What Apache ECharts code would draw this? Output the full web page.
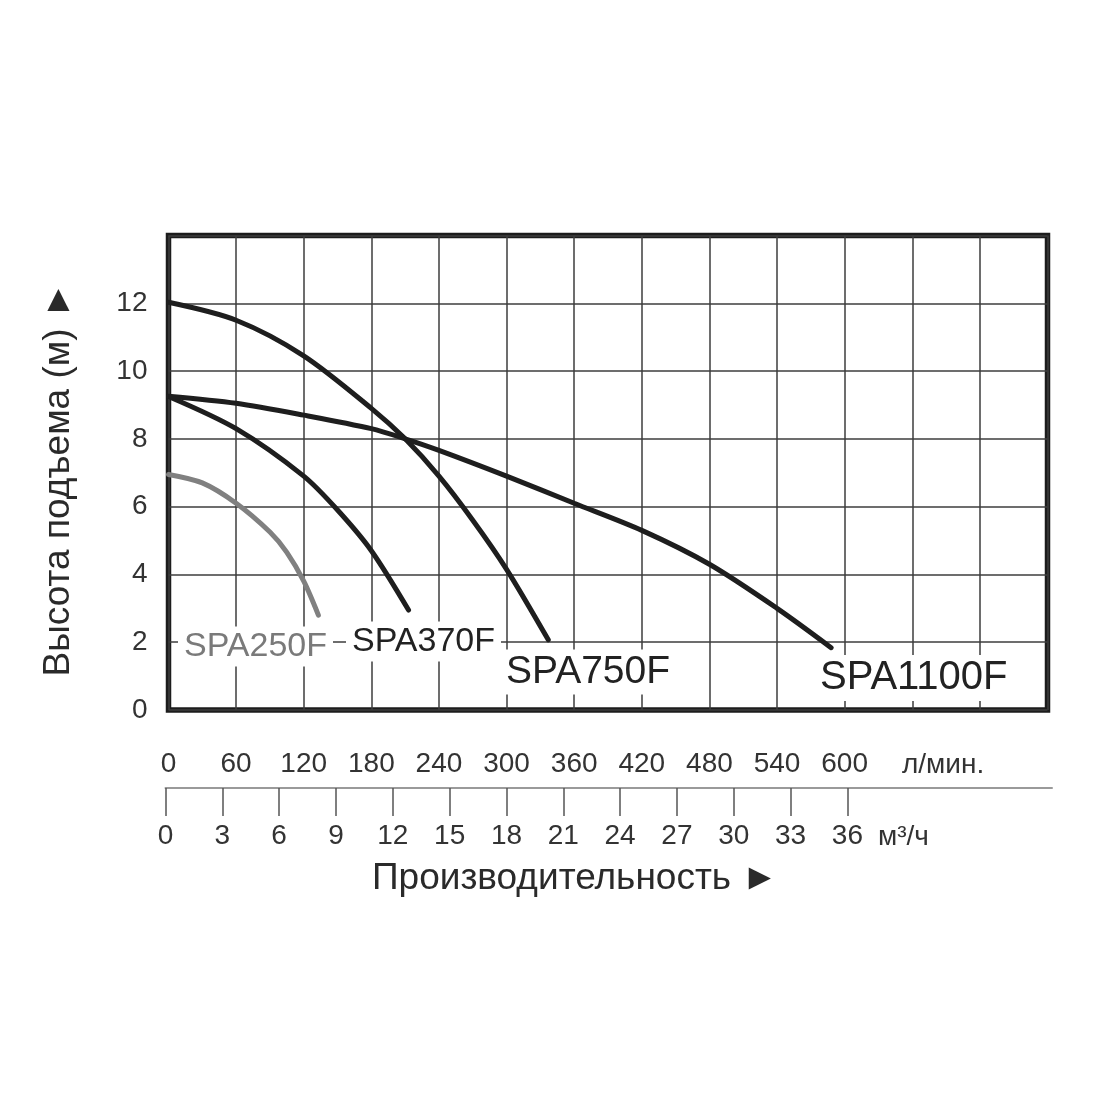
<!DOCTYPE html>
<html>
<head>
<meta charset="utf-8">
<script src="https://cdn.jsdelivr.net/npm/echarts@6/dist/echarts.min.js"></script>
<style>html,body{margin:0;padding:0;background:#fff}#c{width:1100px;height:1100px}</style>
</head>
<body>
<div id="c"></div>
<script>
// Flow in l/min, head in m
const lpmLabels = [0, 60, 120, 180, 240, 300, 360, 420, 480, 540, 600];
const m3hTicks = [0, 3, 6, 9, 12, 15, 18, 21, 24, 27, 30, 33, 36];
const headLabels = [0, 2, 4, 6, 8, 10, 12];

const spa250F = [[0, 6.95], [30, 6.7], [60, 6.1], [90, 5.25], [105, 4.65], [120, 3.8], [133, 2.8]];
const spa370F = [[0, 9.25], [60, 8.3], [120, 6.9], [150, 5.9], [180, 4.7], [213, 2.95]];
const spa750F = [[0, 12.03], [60, 11.5], [120, 10.45], [180, 8.9], [210, 8.0], [240, 6.9], [270, 5.6], [300, 4.15], [337, 2.07]];
const spa1100F = [[0, 9.26], [60, 9.05], [120, 8.7], [180, 8.3], [210, 8.0], [240, 7.66], [300, 6.9], [360, 6.1], [420, 5.3], [480, 4.3], [540, 3.0], [588, 1.84]];

const FONT = '"Liberation Sans", Arial, sans-serif';
const gridLine = { show: true, lineStyle: { color: '#3c3c3c', width: 1.5 } };

function curve(name, data, color) {
  return {
    name, type: 'line', data, xAxisIndex: 0, yAxisIndex: 0,
    showSymbol: false, smooth: 0.3, z: 3,
    lineStyle: { color, width: 5, cap: 'round' }
  };
}
function label(text, x, y, size, color) {
  return {
    type: 'text', left: x, top: y - size * 0.6, z: 5,
    style: { text, fontSize: size, fontFamily: FONT, fill: color, backgroundColor: '#fff', padding: [3, 6] }
  };
}

const chart = echarts.init(document.getElementById('c'));
chart.setOption({
  animation: false,
  backgroundColor: '#fff',
  grid: [
    { left: 168.5, top: 235.5, width: 879, height: 474.5, show: true, borderColor: '#1c1c1c', borderWidth: 5.5, backgroundColor: 'rgba(0,0,0,0)' },
    { left: 165.5, top: 787, width: 886.5, height: 1 }
  ],
  xAxis: [
    {
      gridIndex: 0, type: 'value', min: 0, max: 780, interval: 60,
      axisLine: { show: false }, axisTick: { show: false }, splitLine: gridLine,
      axisLabel: { customValues: lpmLabels, margin: 40, fontSize: 28, color: '#333', fontFamily: FONT }
    },
    {
      gridIndex: 1, type: 'value', min: 0, max: 46.8,
      axisLine: { show: true, lineStyle: { color: '#9a9a9a', width: 2 } },
      axisTick: { show: true, customValues: m3hTicks, length: 28, lineStyle: { color: '#555', width: 1.5 } },
      splitLine: { show: false },
      axisLabel: { customValues: m3hTicks, margin: 34, fontSize: 28, color: '#333', fontFamily: FONT }
    }
  ],
  yAxis: [
    {
      gridIndex: 0, type: 'value', min: 0, max: 14, interval: 2,
      axisLine: { show: false }, axisTick: { show: false }, splitLine: gridLine,
      axisLabel: { customValues: headLabels, margin: 21, fontSize: 28, color: '#333', fontFamily: FONT }
    },
    { gridIndex: 1, type: 'value', show: false, min: 0, max: 1 }
  ],
  series: [
    curve('SPA250F', spa250F, '#808080'),
    curve('SPA370F', spa370F, '#1e1e1e'),
    curve('SPA750F', spa750F, '#1e1e1e'),
    curve('SPA1100F', spa1100F, '#1e1e1e')
  ],
  graphic: [
    {
      type: 'text', x: 59, y: 479, rotation: Math.PI / 2,
      style: { text: 'Высота подъема (м) ►', fontSize: 37, fontFamily: FONT, fill: '#2a2a2a', align: 'center', verticalAlign: 'middle' }
    },
    {
      type: 'text', x: 575, y: 879,
      style: { text: 'Производительность ►', fontSize: 37, fontFamily: FONT, fill: '#2a2a2a', align: 'center', verticalAlign: 'middle' }
    },
    {
      type: 'text', x: 902, y: 765,
      style: { text: 'л/мин.', fontSize: 28, fontFamily: FONT, fill: '#333', align: 'left', verticalAlign: 'middle' }
    },
    {
      type: 'text', x: 878, y: 837,
      style: { text: 'м³/ч', fontSize: 28, fontFamily: FONT, fill: '#333', align: 'left', verticalAlign: 'middle' }
    },
    label('SPA250F', 178, 647, 34, '#7a7a7a'),
    label('SPA370F', 346, 642, 34, '#222'),
    label('SPA750F', 500, 673, 39, '#222'),
    label('SPA1100F', 814, 679, 40, '#222')
  ]
});
</script>
</body>
</html>
